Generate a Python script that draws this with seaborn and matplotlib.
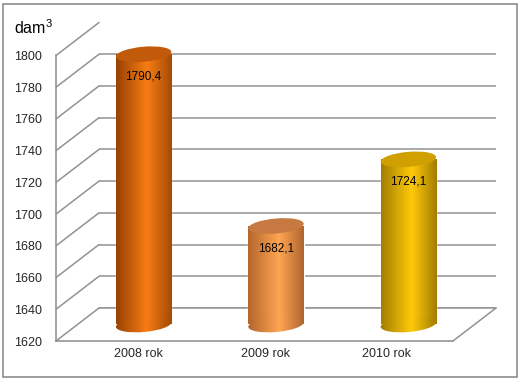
import numpy as np
import pandas as pd
import seaborn as sns
import matplotlib.pyplot as plt
from matplotlib.patches import Ellipse, Rectangle, ConnectionPatch
from matplotlib.colors import LinearSegmentedColormap
from matplotlib.transforms import ScaledTranslation

# data
years = ['2008 rok', '2009 rok', '2010 rok']
values = [1790.4, 1682.1, 1724.1]
labels = ['1790,4', '1682,1', '1724,1']
yticks = [1620, 1640, 1660, 1680, 1700, 1720, 1740, 1760, 1780, 1800]

# cylinder shading: left edge, highlight, right edge, top cap
shades = [
    ('#8f3c00', '#f77c14', '#9c4604', '#c25a0c'),
    ('#ad6028', '#ffa552', '#a55f2c', '#c67a42'),
    ('#9c7600', '#ffca0a', '#987400', '#cfa000'),
]

sns.set_style('white')
plt.rcParams['font.family'] = ['Liberation Sans', 'DejaVu Sans']
plt.rcParams['mathtext.fontset'] = 'custom'
plt.rcParams['mathtext.rm'] = 'Liberation Sans'

W, H = 521, 380
fig = plt.figure(figsize=(W / 100, H / 100), dpi=100)
fig.patch.set_facecolor('white')
fig.patches.append(Rectangle((3 / W, 3 / H), 514 / W, 373 / H, transform=fig.transFigure,
                             fill=False, edgecolor='#8c8c8c', lw=1.2))

# front plane (pixels)
x0, x1, yb, yt = 56, 453, 341, 55.5
dx, dy = 43, 33
ymin, ymax = 1620, 1800
scale = (yb - yt) / (ymax - ymin)
xscale = (x1 - x0) / 3


def frac(px_l, px_r, px_b, px_t):
    return [px_l / W, (H - px_b) / H, (px_r - px_l) / W, (px_b - px_t) / H]


# back wall
axb = fig.add_axes(frac(x0 + dx, x1 + dx, yb - dy, yt - dy))
axb.set_xlim(-0.5, 2.5)
axb.set_ylim(ymin, ymax)
for v in yticks:
    axb.axhline(v, color='#929292', lw=1.1)
axb.axis('off')

# front axes
ax = fig.add_axes(frac(x0, x1, yb, yt))
ax.set_xlim(-0.5, 2.5)
ax.set_ylim(ymin, ymax)
ax.patch.set_alpha(0)
for s in ['top', 'right']:
    ax.spines[s].set_visible(False)
for s in ['left', 'bottom']:
    ax.spines[s].set_color('#8c8c8c')
    ax.spines[s].set_linewidth(1.1)
ax.set_yticks(yticks)
ax.set_yticklabels([str(v) for v in yticks], fontsize=9)
ax.set_xticks([-0.5, 0.5, 1.5, 2.5])
ax.set_xticklabels([])
ax.tick_params(axis='both', which='major', direction='out', length=4, width=1,
               color='#8c8c8c', pad=6)
ax.tick_params(axis='y', length=4.3)
ax.set_xticks([0.12, 1.08, 2.0], minor=True)
ax.set_xticklabels(years, minor=True, fontsize=9)
ax.tick_params(axis='x', which='minor', length=0, pad=5)

# depth lines
for v in yticks:
    fig.add_artist(ConnectionPatch(xyA=(-0.5, v), coordsA=ax.transData,
                                   xyB=(-0.5, v), coordsB=axb.transData,
                                   color='#929292', lw=1.1))
fig.add_artist(ConnectionPatch(xyA=(2.5, ymin), coordsA=ax.transData,
                               xyB=(2.5, ymin), coordsB=axb.transData,
                               color='#929292', lw=1.1))
axb.plot([-0.5, 2.5], [ymin, ymin], color='#929292', lw=1.1, clip_on=False)

# bars, placed at mid depth
ext = 20
axc = fig.add_axes(frac(x0 + dx / 2, x1 + dx / 2, yb - dy / 2 + ext, yt - dy / 2))
df = pd.DataFrame({'year': years, 'value': values})
sns.barplot(data=df, x='year', y='value', hue='year', palette=[s[1] for s in shades],
            width=0.42, legend=False, ax=axc)
axc.axis('off')
axc.set_xlim(-0.5, 2.5)
axc.set_ylim(ymin - ext / scale, ymax)

bars = sorted(axc.patches, key=lambda p: p.get_x())
cap_h = 15 / scale
tilt = 5
grad = np.linspace(0, 1, 256).reshape(1, -1)


def cap(cx, cy, bw, **kw):
    # ellipse drawn in inches around a data point, so the tilt is not distorted
    tr = fig.dpi_scale_trans + ScaledTranslation(cx, cy, axc.transData)
    return Ellipse((0, 0), bw * xscale / 100, 15 / 100, angle=tilt, transform=tr, **kw)


for bar, sh, lab in zip(bars, shades, labels):
    cx = bar.get_x() + bar.get_width() / 2
    bw = bar.get_width()
    top = bar.get_height()
    bar.set_y(ymin)
    bar.set_height(top - ymin)
    cmap = LinearSegmentedColormap.from_list('c', [(0, sh[0]), (0.55, sh[1]), (1, sh[2])])
    bottom = cap(cx, ymin, bw, facecolor='none', edgecolor='none')
    axc.add_patch(bottom)
    for clip in (bar, bottom):
        im = axc.imshow(grad, cmap=cmap, aspect='auto', zorder=3,
                        extent=(cx - bw / 2 - 0.02, cx + bw / 2 + 0.02, ymin - cap_h, top))
        im.set_clip_path(clip)
    bar.set_facecolor('none')
    axc.add_patch(cap(cx, top, bw, facecolor=sh[3], edgecolor='none', zorder=4))
    axc.annotate(lab, (cx, top), xytext=(0, -16), textcoords='offset points',
                 ha='center', va='center', fontsize=8.5, color='black', zorder=5)

axc.set_xlim(-0.5, 2.5)
axc.set_ylim(ymin - ext / scale, ymax)

fig.text(14 / W, (H - 34) / H, 'dam$^{3}$', fontsize=11.5, color='black')

fig.savefig('out.png', dpi=100)
